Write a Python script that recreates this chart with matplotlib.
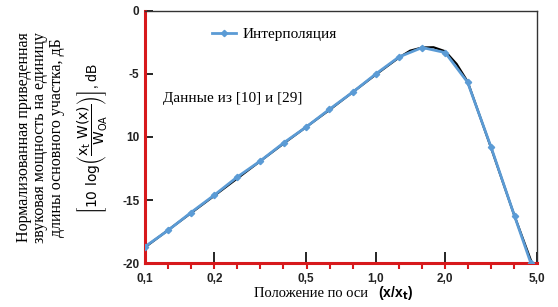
import matplotlib.pyplot as plt
from matplotlib.ticker import FixedLocator, NullFormatter

# interpolation points (blue, diamond markers)
x_int = [0.1, 0.126, 0.158, 0.2, 0.25, 0.316, 0.4, 0.5, 0.63, 0.8, 1.0,
         1.26, 1.59, 2.0, 2.5, 3.16, 4.0, 4.7]
y_int = [-18.7, -17.4, -16.0, -14.6, -13.2, -11.9, -10.45, -9.2, -7.8, -6.4, -5.0,
         -3.65, -2.9, -3.3, -5.65, -10.8, -16.3, -20.0]

# source data curve (black)
x_dat = [0.1, 0.2, 0.4, 0.63, 1.0, 1.26, 1.41, 1.59, 1.78, 2.0, 2.24, 2.5, 3.16, 4.0, 4.75]
y_dat = [-18.75, -14.65, -10.5, -7.85, -5.05, -3.7, -3.15, -2.9, -2.88, -3.2, -4.2, -5.6, -10.85, -16.3, -20.0]

xticks = [0.1, 0.2, 0.5, 1.0, 2.0, 5.0]
xlabels = ['0,1', '0,2', '0,5', '1,0', '2,0', '5,0']
yticks = [0, -5, -10, -15, -20]
ylabels = ['0', '-5', '10', '-15', '-20']
minor_x = [10 ** (-1 + 0.1 * k) for k in range(18)]

red = '#d7191c'
blue = '#5b9bd5'

fig = plt.figure(figsize=(5.58, 3.07), dpi=100)
ax = fig.add_axes([0.2599, 0.1433, 0.7025, 0.8209])

ax.plot(x_dat, y_dat, color='black', lw=1.6, zorder=2)
ax.plot(x_int, y_int, color=blue, lw=2.0, marker='D', ms=3.2, zorder=3,
        label='Интерполяция')

ax.set_xscale('log')
ax.set_xlim(0.1, 5.0)
ax.set_ylim(-20, 0)

ax.xaxis.set_major_locator(FixedLocator(xticks))
ax.set_xticklabels(xlabels)
ax.xaxis.set_minor_locator(FixedLocator(minor_x))
ax.xaxis.set_minor_formatter(NullFormatter())
ax.set_yticks(yticks)
ax.set_yticklabels(ylabels)
ax.yaxis.set_minor_locator(FixedLocator(yticks))

ax.tick_params(which='major', direction='in', color='black', length=8, width=1.2,
               labelsize=8.5, pad=7)
ax.tick_params(axis='y', which='major', length=6, pad=4)
ax.tick_params(which='minor', direction='out', color=red, length=4, width=1.5)
for lab in ax.get_xticklabels() + ax.get_yticklabels():
    lab.set_fontfamily('Liberation Sans')
    lab.set_fontweight('bold')
    lab.set_color('#222222')

for s in ['left', 'bottom']:
    ax.spines[s].set_color(red)
    ax.spines[s].set_linewidth(2.2)
for s in ['top', 'right']:
    ax.spines[s].set_color('#333333')
    ax.spines[s].set_linewidth(1.0)

leg = ax.legend(loc='upper left', bbox_to_anchor=(0.135, 0.99), frameon=False,
                numpoints=1, handlelength=1.6, handletextpad=0.45,
                prop={'family': 'Liberation Serif', 'size': 11})

ax.text(0.045, 0.64, 'Данные из [10] и [29]', transform=ax.transAxes,
        family='Liberation Serif', fontsize=11)

fig.text(0.072, 0.553, 'Нормализованная приведенная\nзвуковая мощность на единицу\nдлины основного участка, дБ',
         rotation=90, ha='center', va='center', family='Liberation Serif',
         fontsize=11.5, linespacing=1.05)
fig.text(0.166, 0.55,
         r'$\left[\mathrm{10\ log}\left(\dfrac{\mathrm{x_t\ W(x)}}{\mathrm{W_{OA}}}\right)\right]$, dB',
         rotation=90, ha='center', va='center', family='Liberation Sans',
         fontsize=10)

fig.text(0.455, 0.045, 'Положение по оси', family='Liberation Serif', fontsize=10.5,
         ha='left', va='center')
fig.text(0.677, 0.045, r'(x/x$_\mathbf{t}$)', family='Liberation Sans', fontsize=10,
         fontweight='bold', ha='left', va='center')

fig.savefig('out.png', dpi=100)
